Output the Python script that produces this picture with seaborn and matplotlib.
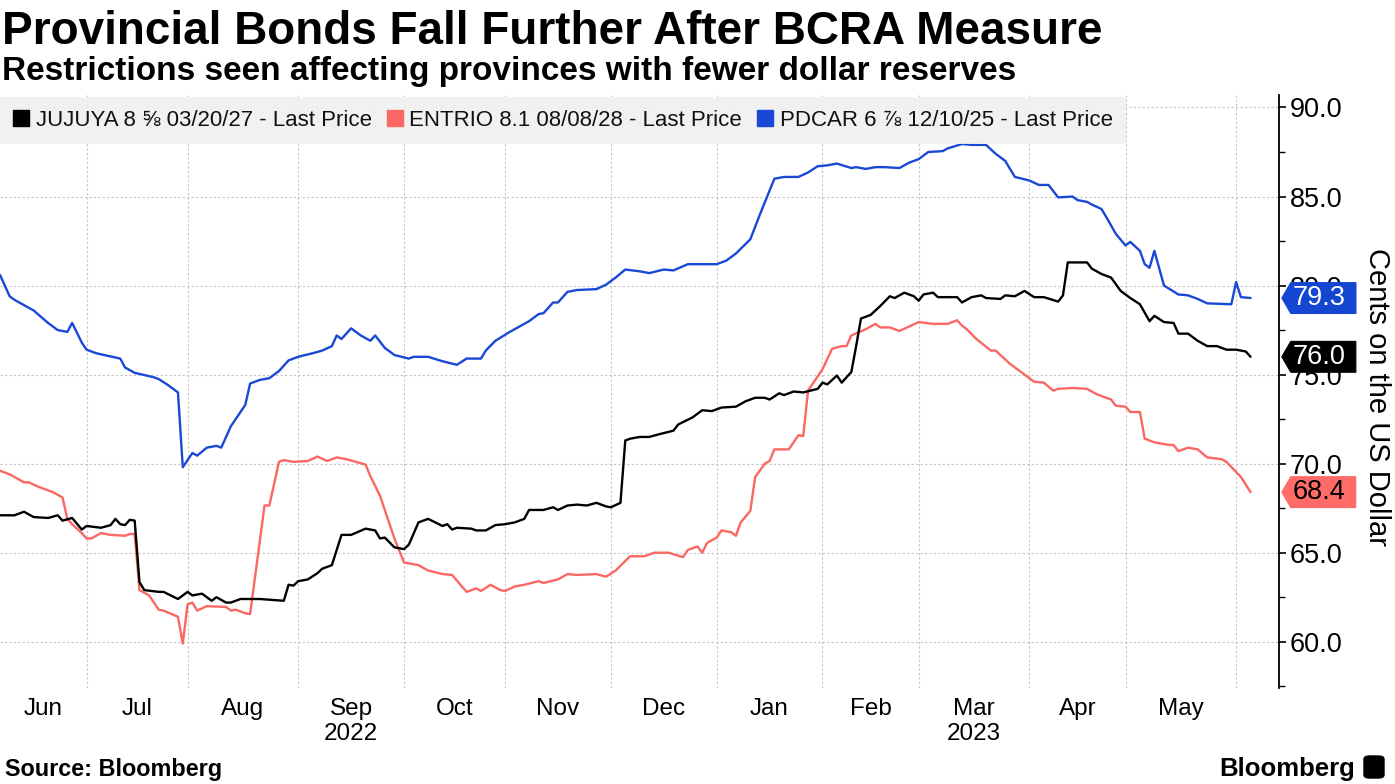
import numpy as np
import pandas as pd
import matplotlib
matplotlib.use("Agg")
import matplotlib.pyplot as plt
import matplotlib.ticker as mticker
from matplotlib.path import Path
from matplotlib.lines import Line2D
from matplotlib.patches import FancyBboxPatch
import seaborn as sns

# ---------------- data (x = trading day counted from start_date) ----------------
start_date = "2022-06-07"

series_names = ["JUJUYA 8 \u215d 03/20/27 - Last Price",
                "ENTRIO 8.1 08/08/28 - Last Price",
                "PDCAR 6 \u215e 12/10/25 - Last Price"]

jujuya_day = [0, 3, 5, 7, 10, 12, 13, 15, 17, 18, 21, 23, 24, 25, 26, 27, 28, 29, 30, 33,
              34, 37, 39, 40, 42, 44, 45, 47, 48, 50, 54, 59, 60, 61, 62, 64, 66, 67, 69, 71,
              73, 76, 78, 79, 80, 82, 84, 85, 87, 89, 92, 93, 94, 95, 98, 99, 101, 103, 105, 107,
              109, 110, 113, 115, 116, 118, 120, 122, 124, 126, 127, 129, 130, 131, 133, 135, 137, 140, 141, 144,
              146, 148, 150, 153, 155, 157, 159, 160, 162, 163, 165, 167, 170, 171, 172, 174, 175, 177, 178, 179,
              181, 183, 185, 186, 188, 190, 191, 192, 194, 195, 199, 200, 202, 204, 205, 208, 209, 211, 213, 215,
              217, 220, 221, 222, 226, 227, 229, 231, 233, 235, 237, 239, 240, 242, 244, 245, 247, 249, 251, 253,
              255, 257, 259, 260]
jujuya_price = [67.1, 67.1, 67.3, 67.0, 66.95, 67.1, 66.8, 66.95, 66.3, 66.5, 66.4, 66.55, 66.9, 66.6, 66.55, 66.85, 66.8, 63.35, 62.9, 62.8,
                62.8, 62.4, 62.8, 62.6, 62.7, 62.3, 62.5, 62.2, 62.2, 62.4, 62.4, 62.3, 63.2, 63.15, 63.4, 63.5, 63.85, 64.1, 64.3, 66.0,
                66.0, 66.35, 66.25, 65.8, 65.85, 65.3, 65.2, 65.45, 66.7, 66.9, 66.5, 66.6, 66.3, 66.4, 66.35, 66.25, 66.25, 66.55, 66.6, 66.7,
                66.9, 67.4, 67.4, 67.55, 67.4, 67.65, 67.7, 67.65, 67.8, 67.6, 67.55, 67.8, 71.3, 71.4, 71.5, 71.5, 71.65, 71.85, 72.2, 72.6,
                73.0, 72.95, 73.15, 73.2, 73.5, 73.7, 73.7, 73.6, 73.95, 73.85, 74.05, 74.0, 74.2, 74.55, 74.45, 74.95, 74.55, 75.15, 76.6, 78.15,
                78.35, 78.85, 79.4, 79.3, 79.6, 79.4, 79.15, 79.5, 79.6, 79.35, 79.35, 79.05, 79.35, 79.45, 79.3, 79.25, 79.45, 79.4, 79.7, 79.35,
                79.35, 79.1, 79.45, 81.3, 81.3, 80.95, 80.65, 80.45, 79.7, 79.3, 78.95, 78.0, 78.3, 77.95, 77.9, 77.3, 77.3, 76.9, 76.6, 76.6,
                76.4, 76.4, 76.3, 76.0]

entrio_day = [0, 2, 5, 6, 8, 11, 13, 14, 15, 17, 18, 19, 21, 23, 26, 27, 28, 29, 31, 33,
              34, 37, 38, 39, 40, 41, 43, 47, 48, 49, 51, 52, 55, 56, 58, 59, 61, 64, 66, 68,
              70, 72, 76, 77, 79, 82, 84, 87, 89, 92, 94, 97, 99, 100, 102, 104, 105, 107, 109, 112,
              113, 116, 118, 120, 124, 126, 128, 131, 134, 136, 139, 142, 143, 145, 146, 147, 149, 150, 152, 153,
              154, 156, 157, 159, 160, 161, 164, 166, 167, 168, 169, 171, 173, 175, 176, 177, 180, 182, 183, 185,
              187, 191, 194, 197, 199, 200, 201, 203, 206, 207, 210, 212, 215, 217, 219, 220, 223, 226, 228, 231,
              232, 234, 235, 237, 238, 240, 243, 244, 245, 247, 249, 251, 254, 255, 258, 260]
entrio_price = [69.6, 69.4, 68.95, 68.95, 68.7, 68.4, 68.1, 66.9, 66.6, 66.1, 65.8, 65.8, 66.1, 66.0, 65.95, 66.05, 66.05, 62.9, 62.6, 61.8,
                61.75, 61.4, 59.9, 62.1, 62.2, 61.75, 62.0, 61.95, 61.75, 61.8, 61.6, 61.55, 67.65, 67.65, 70.1, 70.2, 70.1, 70.15, 70.4, 70.15,
                70.35, 70.25, 69.95, 69.3, 68.2, 65.8, 64.45, 64.3, 64.0, 63.8, 63.75, 62.8, 63.0, 62.85, 63.2, 62.9, 62.85, 63.1, 63.2, 63.4,
                63.3, 63.5, 63.8, 63.75, 63.8, 63.65, 64.0, 64.8, 64.8, 65.0, 65.0, 64.75, 65.15, 65.35, 65.0, 65.55, 65.85, 66.25, 66.15, 65.95,
                66.7, 67.35, 69.25, 70.0, 70.15, 70.8, 70.8, 71.6, 71.55, 74.1, 74.5, 75.3, 76.45, 76.6, 76.6, 77.2, 77.55, 77.85, 77.65, 77.65,
                77.45, 77.95, 77.85, 77.85, 78.05, 77.75, 77.55, 77.0, 76.35, 76.35, 75.6, 75.2, 74.6, 74.55, 74.1, 74.2, 74.25, 74.2, 73.9, 73.6,
                73.25, 73.2, 72.9, 72.9, 71.4, 71.2, 71.05, 71.05, 70.7, 70.9, 70.8, 70.35, 70.25, 70.1, 69.25, 68.4]

pdcar_day = [0, 2, 3, 7, 10, 12, 14, 15, 17, 18, 20, 25, 26, 28, 32, 33, 35, 37, 38, 40,
             41, 43, 45, 46, 48, 51, 52, 54, 56, 58, 60, 62, 65, 67, 69, 70, 71, 73, 75, 77,
             78, 80, 82, 85, 86, 89, 92, 95, 97, 100, 101, 103, 106, 109, 110, 112, 113, 115, 116, 118,
             120, 124, 126, 128, 130, 133, 135, 138, 140, 143, 149, 151, 153, 156, 158, 161, 163, 166, 168, 170,
             172, 174, 177, 178, 180, 182, 184, 187, 189, 191, 193, 196, 197, 200, 202, 205, 207, 209, 211, 214,
             216, 218, 220, 223, 224, 226, 227, 229, 230, 232, 234, 235, 237, 238, 239, 240, 242, 245, 247, 249,
             251, 256, 257, 258, 260]
pdcar_price = [80.6, 79.4, 79.2, 78.6, 77.9, 77.5, 77.4, 77.9, 76.8, 76.4, 76.2, 75.9, 75.4, 75.1, 74.85, 74.75, 74.4, 74.0, 69.8, 70.6,
               70.45, 70.9, 71.0, 70.9, 72.1, 73.3, 74.5, 74.7, 74.8, 75.2, 75.8, 76.0, 76.2, 76.35, 76.6, 77.2, 77.0, 77.6, 77.2, 76.9,
               77.2, 76.5, 76.1, 75.9, 76.0, 76.0, 75.75, 75.55, 75.9, 75.9, 76.35, 76.9, 77.4, 77.85, 78.0, 78.4, 78.45, 79.05, 79.05, 79.65,
               79.75, 79.8, 80.05, 80.45, 80.9, 80.8, 80.7, 80.9, 80.85, 81.2, 81.2, 81.4, 81.8, 82.6, 84.0, 86.0, 86.1, 86.1, 86.35, 86.7,
               86.75, 86.85, 86.6, 86.65, 86.55, 86.65, 86.65, 86.6, 86.9, 87.1, 87.5, 87.55, 87.7, 87.95, 87.9, 87.9, 87.4, 87.0, 86.1, 85.9,
               85.65, 85.65, 84.95, 85.0, 84.8, 84.7, 84.55, 84.3, 83.85, 82.9, 82.25, 82.45, 81.95, 81.2, 81.0, 81.95, 80.0, 79.5, 79.45, 79.25,
               79.0, 78.95, 80.2, 79.35, 79.3]

month_starts = ["2022-07-01", "2022-08-01", "2022-09-01", "2022-10-01", "2022-11-01", "2022-12-01",
                "2023-01-01", "2023-02-01", "2023-03-01", "2023-04-01", "2023-05-01", "2023-06-01"]
month_labels = ["Jun", "Jul", "Aug", "Sep\n2022", "Oct", "Nov", "Dec", "Jan", "Feb", "Mar\n2023", "Apr", "May"]
price_ticks = [60.0, 65.0, 70.0, 75.0, 80.0, 85.0, 90.0]

colors = {series_names[0]: "#000000", series_names[1]: "#fb6762", series_names[2]: "#1a48d6"}
tag_fill = {series_names[0]: "#000000", series_names[1]: "#ff6b66", series_names[2]: "#1446d2"}
tag_text = {series_names[0]: "white", series_names[1]: "black", series_names[2]: "white"}

# ---------------- build tidy frame ----------------
df = pd.concat([
    pd.DataFrame({"day": jujuya_day, "price": jujuya_price, "bond": series_names[0]}),
    pd.DataFrame({"day": entrio_day, "price": entrio_price, "bond": series_names[1]}),
    pd.DataFrame({"day": pdcar_day, "price": pdcar_price, "bond": series_names[2]}),
], ignore_index=True)

sns.set_theme(style="white")
plt.rcParams["font.family"] = ["Liberation Sans", "DejaVu Sans"]

fig = plt.figure(figsize=(13.95, 7.84), dpi=100)
ax = fig.add_axes([0.0, 0.1224, 0.9168, 0.7564])

draw_order = [series_names[1], series_names[0], series_names[2]]
sns.lineplot(data=df, x="day", y="price", hue="bond", hue_order=draw_order,
             palette=colors, estimator=None, sort=False, linewidth=1.7,
             legend=False, ax=ax)

# ---------------- axes ----------------
bounds = np.busday_count(start_date, month_starts)
edges = np.concatenate([[0], bounds])
label_pos = (edges[:-1] + edges[1:]) / 2.0

ax.set_xlim(0, bounds[-1] + 8.9)
ax.set_ylim(57.4, 90.7)

ax.set_xticks(bounds)
ax.set_xticklabels([])
ax.set_xticks(label_pos, minor=True)
ax.set_xticklabels(month_labels, minor=True)
ax.tick_params(axis="x", which="both", length=0, labelsize=17.5, pad=7, colors="black")

ax.yaxis.tick_right()
ax.set_yticks(price_ticks)
ax.set_yticklabels([f"{v:.1f}" for v in price_ticks])
ax.yaxis.set_minor_locator(mticker.MultipleLocator(2.5))
ax.tick_params(axis="y", which="major", length=5, width=1.2, labelsize=19.5, pad=3,
               direction="out", colors="black", right=True, left=False)
ax.tick_params(axis="y", which="minor", length=4, width=1.0, direction="out",
               colors="black", right=True, left=False)

ax.set_xlabel("")
ax.set_ylabel("Cents on the US Dollar", fontsize=21, rotation=270, color="black")
ax.yaxis.set_label_position("right")
ax.yaxis.set_label_coords(1.0766, 0.49)
ax.yaxis.label.set_va("center")
ax.yaxis.label.set_ha("center")

for s in ["top", "left", "bottom"]:
    ax.spines[s].set_visible(False)
ax.spines["right"].set_visible(True)
ax.spines["right"].set_color("black")
ax.spines["right"].set_linewidth(1.3)

ax.grid(True, which="major", axis="both", color="#c4c4c4", linestyle=(0, (2, 2)), linewidth=0.8)
ax.set_axisbelow(True)

# ---------------- legend ----------------
handles = [Line2D([], [], marker="s", linestyle="none", markersize=11,
                  markerfacecolor=colors[n], markeredgecolor=colors[n]) for n in series_names]
leg = ax.legend(handles, series_names, loc="upper left", bbox_to_anchor=(0.0, 0.997),
                ncol=3, frameon=True, fancybox=False, facecolor="#f0f0f0", edgecolor="none",
                framealpha=0.9, fontsize=16, handlelength=0.7, handletextpad=0.3,
                columnspacing=0.7, borderpad=0.6, borderaxespad=0.0)
for t in leg.get_texts():
    t.set_color("#111111")


# ---------------- last-value tags ----------------
def tag_box(x0, y0, width, height, mutation_size):
    cy = y0 + height / 2.0
    h2 = 0.57 * mutation_size
    left = x0 - 0.05 * mutation_size
    right = x0 + width + 0.4 * mutation_size
    tip = left - 0.33 * mutation_size
    verts = [(tip, cy), (left, cy + h2), (right, cy + h2), (right, cy - h2),
             (left, cy - h2), (tip, cy)]
    codes = [Path.MOVETO] + [Path.LINETO] * 4 + [Path.CLOSEPOLY]
    return Path(verts, codes)


last_values = {series_names[0]: jujuya_price[-1],
               series_names[1]: entrio_price[-1],
               series_names[2]: pdcar_price[-1]}
for name, val in last_values.items():
    ax.annotate(f"{val:.1f}", xy=(1.0, val), xycoords=("axes fraction", "data"),
                xytext=(9.5, 0), textcoords="offset points", ha="left", va="center",
                fontsize=19.5, color=tag_text[name], annotation_clip=False, zorder=10,
                bbox=dict(boxstyle=tag_box, facecolor=tag_fill[name],
                          edgecolor=tag_fill[name], linewidth=0.8))

# ---------------- titles & footer ----------------
fig.text(2 / 1395, 1 - 44 / 784, "Provincial Bonds Fall Further After BCRA Measure",
         fontsize=33, fontweight="bold", ha="left", va="baseline", color="black")
fig.text(2 / 1395, 1 - 80 / 784, "Restrictions seen affecting provinces with fewer dollar reserves",
         fontsize=24, fontweight="bold", ha="left", va="baseline", color="black")
fig.text(5 / 1395, 8 / 784, "Source: Bloomberg", fontsize=16.8, fontweight="bold",
         ha="left", va="baseline", color="black")
fig.text(1355 / 1395, 8 / 784, "Bloomberg", fontsize=18.5, fontweight="bold",
         ha="right", va="baseline", color="black")
fig.add_artist(FancyBboxPatch((1364 / 1395, 6 / 784), 20 / 1395, 22 / 784,
                              boxstyle="round,pad=0,rounding_size=0.004",
                              transform=fig.transFigure, facecolor="black", edgecolor="black"))

fig.savefig("out.png", dpi=100)
